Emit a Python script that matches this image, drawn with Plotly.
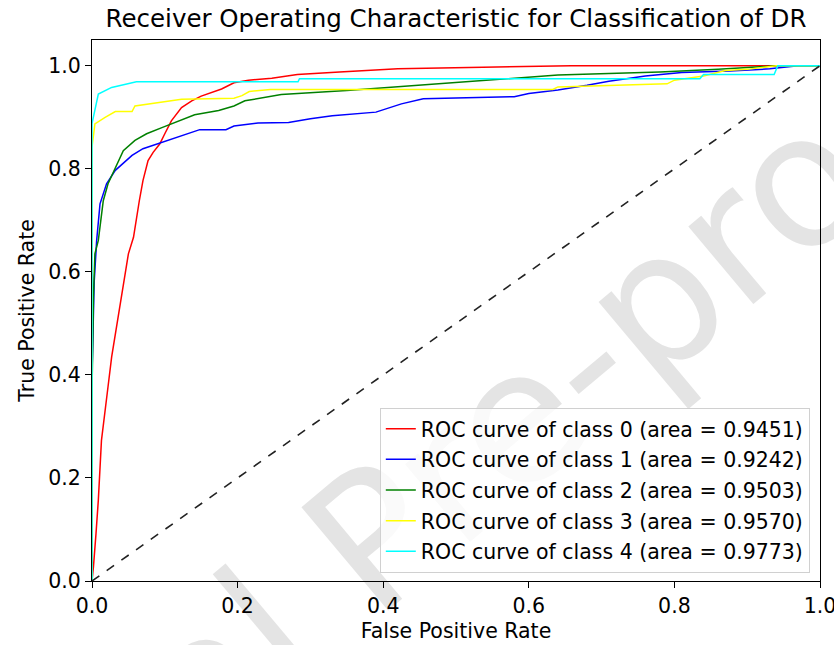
import plotly.graph_objects as go

# ---- data ----
classes = ["0", "1", "2", "3", "4"]
areas = ["0.9451", "0.9242", "0.9503", "0.9570", "0.9773"]
colors = ["red", "blue", "green", "yellow", "cyan"]
tick_vals = [0.0, 0.2, 0.4, 0.6, 0.8, 1.0]
tick_text = ["0.0", "0.2", "0.4", "0.6", "0.8", "1.0"]

fpr_0 = [0, 0.002, 0.0055, 0.0087, 0.013, 0.018, 0.022, 0.027, 0.032, 0.036, 0.041, 0.045, 0.050,
         0.057, 0.061, 0.065, 0.070, 0.077, 0.084, 0.093, 0.100, 0.109, 0.123, 0.137, 0.150, 0.178,
         0.195, 0.215, 0.247, 0.282, 0.340, 0.420, 0.537, 0.658, 1.0]
tpr_0 = [0, 0.028, 0.092, 0.157, 0.273, 0.325, 0.377, 0.435, 0.480, 0.512, 0.558, 0.596, 0.635,
         0.667, 0.706, 0.738, 0.777, 0.816, 0.832, 0.848, 0.868, 0.893, 0.919, 0.932, 0.941, 0.955,
         0.967, 0.972, 0.976, 0.983, 0.988, 0.994, 0.997, 1.0, 1.0]

fpr_1 = [0, 0.0, 0.003, 0.0064, 0.011, 0.020, 0.032, 0.041, 0.055, 0.070, 0.089, 0.109, 0.128,
         0.148, 0.184, 0.195, 0.228, 0.270, 0.300, 0.330, 0.390, 0.405, 0.425, 0.455, 0.580, 0.600,
         0.640, 0.680, 0.710, 0.760, 0.810, 0.876, 0.931, 0.970, 1.0]
tpr_1 = [0, 0.40, 0.58, 0.661, 0.732, 0.771, 0.797, 0.809, 0.826, 0.839, 0.848, 0.858, 0.868,
         0.876, 0.876, 0.883, 0.889, 0.890, 0.897, 0.903, 0.910, 0.917, 0.926, 0.936, 0.940, 0.946,
         0.953, 0.962, 0.970, 0.980, 0.987, 0.990, 0.994, 1.0, 1.0]

fpr_2 = [0, 0.0, 0.002, 0.004, 0.0087, 0.0155, 0.022, 0.034, 0.043, 0.059, 0.075, 0.096, 0.119,
         0.141, 0.174, 0.195, 0.210, 0.260, 0.350, 0.430, 0.500, 0.570, 0.640, 0.780, 0.860,
         0.940, 1.0]
tpr_2 = [0, 0.364, 0.551, 0.635, 0.661, 0.738, 0.771, 0.809, 0.835, 0.855, 0.868, 0.880, 0.893,
         0.905, 0.913, 0.922, 0.932, 0.944, 0.952, 0.960, 0.967, 0.975, 0.982, 0.988, 0.993,
         1.0, 1.0]

fpr_3 = [0, 0, 0.004, 0.018, 0.032, 0.055, 0.059, 0.091, 0.123, 0.195, 0.206, 0.216, 0.245,
         0.633, 0.640, 0.790, 0.800, 0.840, 0.870, 0.900, 0.94, 1.0]
tpr_3 = [0, 0.842, 0.887, 0.900, 0.911, 0.911, 0.922, 0.929, 0.935, 0.937, 0.942, 0.950, 0.954,
         0.954, 0.959, 0.965, 0.972, 0.980, 0.991, 0.993, 1.0, 1.0]

fpr_4 = [0, 0, 0.0087, 0.027, 0.061, 0.283, 0.285, 0.835, 0.840, 0.937, 0.942, 1.0]
tpr_4 = [0, 0.888, 0.945, 0.958, 0.969, 0.969, 0.975, 0.975, 0.983, 0.983, 1.0, 1.0]

fprs = [fpr_0, fpr_1, fpr_2, fpr_3, fpr_4]
tprs = [tpr_0, tpr_1, tpr_2, tpr_3, tpr_4]

chance_x = [0, 1]
chance_y = [0, 1]

FONT = "DejaVu Sans"
FS = 20.5

fig = go.Figure()
for i in range(len(classes)):
    fig.add_trace(go.Scatter(
        x=fprs[i], y=tprs[i], mode="lines",
        line=dict(color=colors[i], width=1.5),
        name=f"ROC curve of class {classes[i]} (area = {areas[i]})",
        legendgroup=f"g{i}",
    ))
fig.add_trace(go.Scatter(x=chance_x, y=chance_y, mode="lines",
                         line=dict(color="#222222", width=1.6, dash="dash"),
                         showlegend=False))

# watermark
fig.add_shape(type="line", xref="paper", yref="paper",
              x0=0.385, x1=0.405, y0=0.118, y1=0.118, layer="below",
              line=dict(width=0, color="rgba(0,0,0,0)"),
              label=dict(text="Journal Pre-proof", textangle=-40,
                         font=dict(family=FONT, size=185, color="#e4e4e4"),
                         textposition="middle", xanchor="center", yanchor="middle"))

axis_common = dict(
    showgrid=False, zeroline=False, showline=True, linecolor="black", linewidth=1.2,
    mirror=True, ticks="outside", ticklen=6, tickwidth=1.2, tickcolor="black",
    tickfont=dict(family=FONT, size=FS, color="black"),
    tickmode="array", tickvals=tick_vals, ticktext=tick_text,
    ticklabeloverflow="allow",
)

fig.update_layout(
    width=834, height=645,
    margin=dict(l=92, r=14, t=40, b=64, autoexpand=False),
    paper_bgcolor="white", plot_bgcolor="rgba(0,0,0,0)",
    font=dict(family=FONT, color="black"),
    title=dict(text="Receiver Operating Characteristic for Classification of DR",
               x=0.5, xref="paper", y=1 - 18 / 645, yref="container",
               xanchor="center", yanchor="middle",
               font=dict(family=FONT, size=24.5, color="black")),
    xaxis=dict(range=[0, 1], title=dict(text="False Positive Rate", standoff=6,
                                       font=dict(family=FONT, size=FS)), **axis_common),
    yaxis=dict(range=[0, 1.05], title=dict(text="True Positive Rate", standoff=8,
                                          font=dict(family=FONT, size=FS)), **axis_common),
    legend=dict(x=0.986, y=0.015, xanchor="right", yanchor="bottom",
                bgcolor="rgba(255,255,255,0.8)", bordercolor="#d0d0d0", borderwidth=1,
                font=dict(family=FONT, size=FS, color="black"),
                tracegroupgap=1),
    showlegend=True,
)

# remove the default 8px page margin so the figure fills the window exactly
fig.write_html("out.html",
               config={"displayModeBar": False},
               post_script="document.body.style.margin='0';document.body.style.overflow='hidden';")
